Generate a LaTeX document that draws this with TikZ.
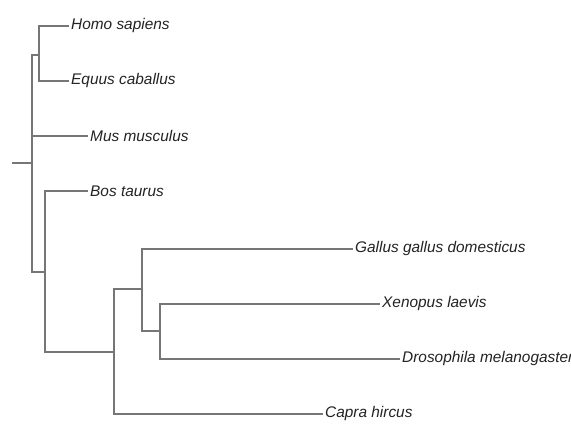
\documentclass[tikz,border=0pt]{standalone}
\usepackage{fontspec}
\setmainfont{Liberation Sans}
\definecolor{edgegray}{RGB}{118,118,118}
\definecolor{labelgray}{RGB}{35,35,35}
\begin{document}
\begin{tikzpicture}[x=1pt,y=-1pt,
  edge/.style={draw=edgegray,line width=1.4pt},
  leaf/.style={anchor=west,inner xsep=2pt,inner ysep=0pt,text=labelgray,font=\fontsize{15.4}{18}\selectfont\itshape}]
\clip (0,0) rectangle (571,427);
\useasboundingbox (0,0) rectangle (571,427);
\fill[white] (0,0) rectangle (571,427);
% internal nodes
\coordinate (s0) at (12,163);
\coordinate (r) at (32,163);
\coordinate (a) at (39,55);
\coordinate (b) at (45,272);
\coordinate (c) at (114,352);
\coordinate (d) at (142,289);
\coordinate (e) at (160,331);
% leaves
\node[leaf] (hs) at (69,26) {Homo sapiens};
\node[leaf] (ec) at (69,81) {Equus caballus};
\node[leaf] (mm) at (88,136) {Mus musculus};
\node[leaf] (bt) at (88,191) {Bos taurus};
\node[leaf] (gg) at (353,249) {Gallus gallus domesticus};
\node[leaf] (xl) at (380,304) {Xenopus laevis};
\node[leaf] (dm) at (400,359) {Drosophila melanogaster};
\node[leaf] (cap) at (323,414) {Capra hircus};
% edges
\draw[edge] (s0) -- (r);
\draw[edge] (r) |- (a);
\draw[edge] (a) |- (hs.west);
\draw[edge] (a) |- (ec.west);
\draw[edge] (r) |- (mm.west);
\draw[edge] (r) |- (b);
\draw[edge] (b) |- (bt.west);
\draw[edge] (b) |- (c);
\draw[edge] (c) |- (d);
\draw[edge] (c) |- (cap.west);
\draw[edge] (d) |- (gg.west);
\draw[edge] (d) |- (e);
\draw[edge] (e) |- (xl.west);
\draw[edge] (e) |- (dm.west);
\end{tikzpicture}
\end{document}
